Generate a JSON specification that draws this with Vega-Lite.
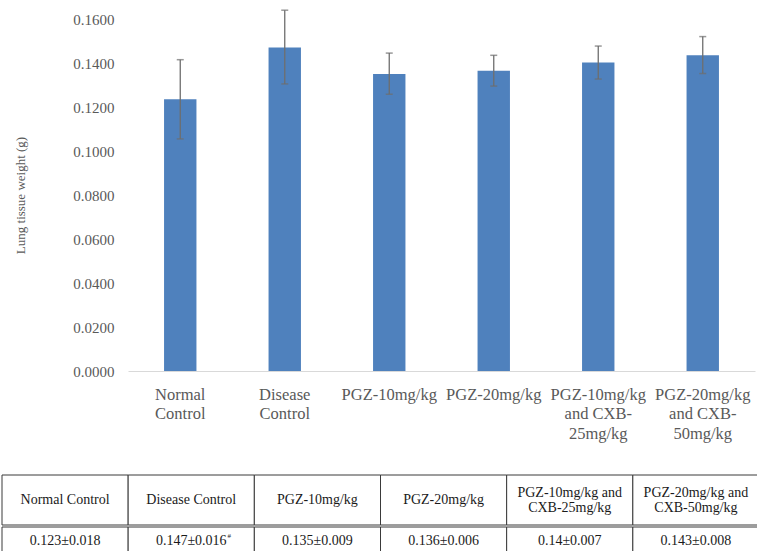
{
  "$schema": "https://vega.github.io/schema/vega-lite/v6.json",
  "padding": {"top": 9, "left": 0, "right": 0, "bottom": 0},
  "background": "white",
  "config": {"view": {"stroke": null}, "font": "Liberation Serif"},
  "data": {"values": [
    {"group": "Normal Control", "mean": 0.1235, "lower": 0.1055, "upper": 0.1415, "header": "Normal Control", "value": "0.123±0.018", "note": ""},
    {"group": "Disease Control", "mean": 0.147, "lower": 0.1305, "upper": 0.1640, "header": "Disease Control", "value": "0.147±0.016", "note": "#"},
    {"group": "PGZ-10mg/kg", "mean": 0.135, "lower": 0.1258, "upper": 0.1445, "header": "PGZ-10mg/kg", "value": "0.135±0.009", "note": ""},
    {"group": "PGZ-20mg/kg", "mean": 0.1365, "lower": 0.1295, "upper": 0.1435, "header": "PGZ-20mg/kg", "value": "0.136±0.006", "note": ""},
    {"group": "PGZ-10mg/kg and CXB-25mg/kg", "mean": 0.1402, "lower": 0.1327, "upper": 0.1477, "header": "PGZ-10mg/kg and\nCXB-25mg/kg", "value": "0.14±0.007", "note": ""},
    {"group": "PGZ-20mg/kg and CXB-50mg/kg", "mean": 0.1435, "lower": 0.1352, "upper": 0.1520, "header": "PGZ-20mg/kg and\nCXB-50mg/kg", "value": "0.143±0.008", "note": ""}
  ]},
  "spacing": 32,
  "vconcat": [
    {
      "width": 627,
      "height": 352,
      "encoding": {
        "x": {
          "field": "group", "type": "nominal", "sort": null, "title": null,
          "scale": {"paddingInner": 0.69, "paddingOuter": 0.345},
          "axis": {
            "labelAngle": 0, "ticks": false, "domainColor": "#d9d9d9", "domainWidth": 1,
            "labelFont": "Liberation Serif", "labelFontSize": 16.5, "labelColor": "#595959",
            "labelLineHeight": 19.5, "labelPadding": 15, "labelLimit": 0,
            "labelExpr": "datum.value == 'Normal Control' ? ['Normal', 'Control'] : datum.value == 'Disease Control' ? ['Disease', 'Control'] : datum.value == 'PGZ-10mg/kg and CXB-25mg/kg' ? ['PGZ-10mg/kg', 'and CXB-', '25mg/kg'] : datum.value == 'PGZ-20mg/kg and CXB-50mg/kg' ? ['PGZ-20mg/kg', 'and CXB-', '50mg/kg'] : datum.value"
          }
        }
      },
      "layer": [
        {
          "mark": {"type": "bar", "color": "#4f81bd"},
          "encoding": {
            "y": {
              "field": "mean", "type": "quantitative",
              "scale": {"domain": [0, 0.16], "nice": false},
              "axis": {
                "values": [0, 0.02, 0.04, 0.06, 0.08, 0.1, 0.12, 0.14, 0.16],
                "format": ".4f", "grid": false, "domain": false, "ticks": false,
                "labelFont": "Liberation Serif", "labelFontSize": 15, "labelColor": "#595959", "labelPadding": 14,
                "title": [" ", "Lung tissue weight (g)"], "titleFont": "Liberation Serif", "titleFontSize": 13,
                "titleFontWeight": "normal", "titleColor": "#595959", "titlePadding": 45, "titleLineHeight": 14
              }
            }
          }
        },
        {
          "mark": {"type": "rule", "color": "#6e6e6e", "strokeWidth": 1.3},
          "encoding": {
            "y": {"field": "lower", "type": "quantitative"},
            "y2": {"field": "upper"}
          }
        },
        {
          "mark": {"type": "tick", "color": "#6e6e6e", "size": 7, "thickness": 1.5},
          "encoding": {"y": {"field": "lower", "type": "quantitative"}}
        },
        {
          "mark": {"type": "tick", "color": "#6e6e6e", "size": 7, "thickness": 1.5},
          "encoding": {"y": {"field": "upper", "type": "quantitative"}}
        }
      ]
    },
    {
      "spacing": 0,
      "vconcat": [
        {
          "width": 631,
          "height": 50,
          "encoding": {
            "x": {"field": "group", "type": "nominal", "sort": null, "axis": null,
                  "scale": {"paddingInner": 0, "paddingOuter": 0, "range": [-126, 631]}}
          },
          "layer": [
            {"mark": {"type": "rect", "fill": "white", "stroke": "#3a3a3a", "strokeWidth": 1}},
            {"transform": [{"filter": "indexof(datum.header, 'CXB') < 0"}],
             "mark": {"type": "text", "font": "Liberation Serif", "fontSize": 14, "color": "#1a1a1a"},
             "encoding": {"text": {"field": "header"}}},
            {"transform": [{"filter": "indexof(datum.header, 'CXB') >= 0"}],
             "mark": {"type": "text", "font": "Liberation Serif", "fontSize": 14, "color": "#1a1a1a", "lineBreak": "\n", "lineHeight": 14.5, "dy": -7},
             "encoding": {"text": {"field": "header"}}}
          ]
        },
        {
          "width": 631,
          "height": 28,
          "encoding": {
            "x": {"field": "group", "type": "nominal", "sort": null, "axis": null,
                  "scale": {"paddingInner": 0, "paddingOuter": 0, "range": [-126, 631]}}
          },
          "layer": [
            {"mark": {"type": "rect", "fill": "white", "stroke": "#3a3a3a", "strokeWidth": 1}},
            {"mark": {"type": "text", "font": "Liberation Serif", "fontSize": 14, "color": "#1a1a1a"},
             "encoding": {"text": {"field": "value"}}},
            {"transform": [{"filter": "datum.note != ''"}],
             "mark": {"type": "text", "font": "Liberation Serif", "fontSize": 7, "color": "#1a1a1a", "dx": 38, "dy": -5},
             "encoding": {"text": {"field": "note"}}}
          ]
        }
      ]
    }
  ]
}
